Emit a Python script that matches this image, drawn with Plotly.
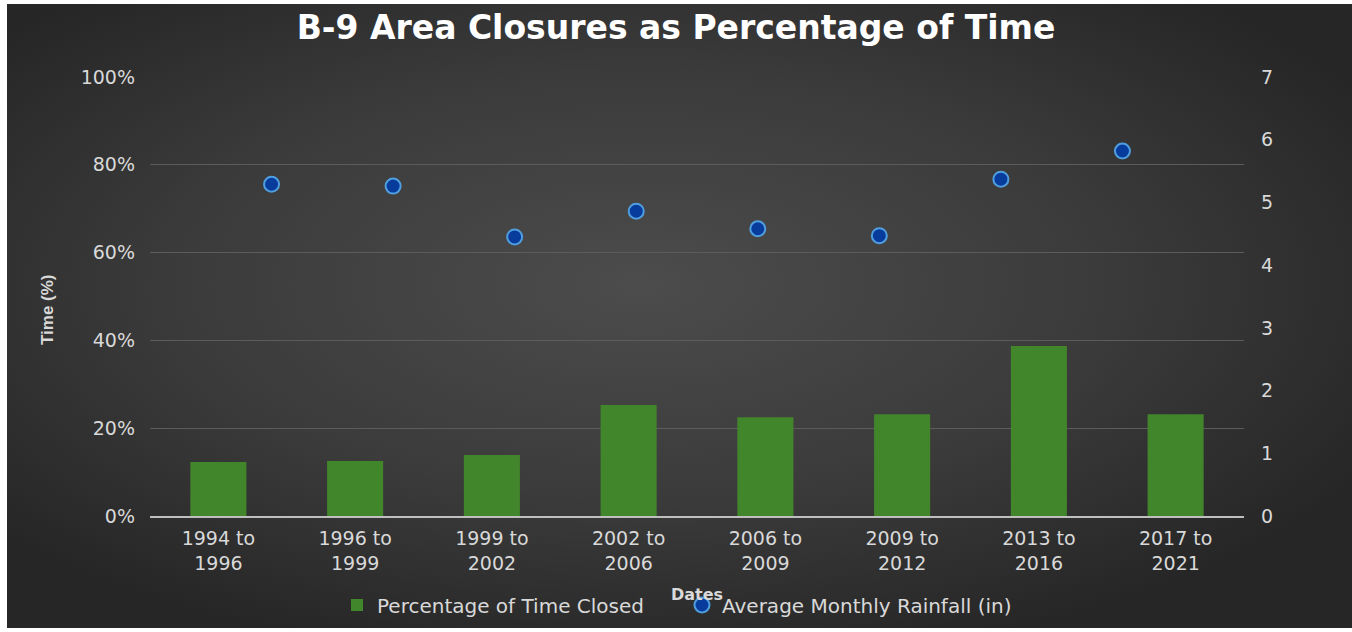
import plotly.graph_objects as go
import urllib.parse

categories = ["1994 to<br>1996", "1996 to<br>1999", "1999 to<br>2002", "2002 to<br>2006",
              "2006 to<br>2009", "2009 to<br>2012", "2013 to<br>2016", "2017 to<br>2021"]
pct_closed = [12.3, 12.5, 13.9, 25.3, 22.5, 23.2, 38.7, 23.2]
rain_pos = [1, 2, 3, 4, 5, 6, 7, 8]
rainfall = [5.29, 5.26, 4.45, 4.86, 4.58, 4.47, 5.37, 5.82]

W, H = 1352, 632
L, R, T, B = 150, 1244, 77, 516
pw, ph = R - L, B - T

svg = (
    "<svg xmlns='http://www.w3.org/2000/svg' width='1345' height='624' viewBox='0 0 1345 624' preserveAspectRatio='none'>"
    "<defs><radialGradient id='g' cx='0.47' cy='0.45' r='0.62' gradientUnits='objectBoundingBox'>"
    "<stop offset='0' stop-color='#4c4c4c'/><stop offset='0.55' stop-color='#3b3b3b'/>"
    "<stop offset='1' stop-color='#262626'/></radialGradient></defs>"
    "<rect width='1345' height='624' fill='url(#g)'/></svg>"
)
src = "data:image/svg+xml;charset=utf-8," + urllib.parse.quote(svg)

FONT = "DejaVu Sans"

fig = go.Figure()
fig.add_trace(go.Bar(
    x=categories, y=pct_closed, name="Percentage of Time Closed",
    marker=dict(color="#42862b", line=dict(width=0)),
    xaxis="x", yaxis="y",
))
fig.add_trace(go.Scatter(
    x=rain_pos, y=rainfall, name="Average Monthly Rainfall (in)",
    mode="markers",
    marker=dict(size=15, color="#083c9c", line=dict(color="#4f9fe0", width=2)),
    xaxis="x2", yaxis="y2",
))

tickfont = dict(family=FONT, size=19, color="#d9d9d9")
fig.update_layout(
    width=W, height=H,
    margin=dict(l=L, r=W - R, t=T, b=H - B, pad=0, autoexpand=False),
    paper_bgcolor="#ffffff",
    plot_bgcolor="rgba(0,0,0,0)",
    bargap=0.59,
    showlegend=True,
    title=dict(text="<b>B-9 Area Closures as Percentage of Time</b>",
               x=676 / W, xanchor="center", y=1 - 27 / H, yanchor="middle",
               font=dict(family=FONT, size=33, color="#ffffff")),
    xaxis=dict(tickfont=tickfont, showgrid=False, showline=True, linecolor="#bfbfbf",
               linewidth=2, ticks="", zeroline=False, ticklabelstandoff=4),
    xaxis2=dict(overlaying="x", range=[0, 9], visible=False, anchor="y2"),
    yaxis=dict(range=[0, 100], dtick=20, ticksuffix="%", tickfont=tickfont,
               showgrid=True, gridcolor="#5c5c5c", gridwidth=1, zeroline=False,
               ticks="", ticklabelstandoff=14),
    yaxis2=dict(range=[0, 7], dtick=1, overlaying="y", side="right", tickfont=tickfont,
                showgrid=False, zeroline=False, ticks="", ticklabelstandoff=16),
    legend=dict(orientation="h", x=(337 - L) / pw, xanchor="left", y=(B - 605) / ph, yanchor="middle",
                font=dict(family=FONT, size=20, color="#d9d9d9"),
                bgcolor="rgba(0,0,0,0)", itemwidth=30, traceorder="normal",
                entrywidth=300, entrywidthmode="pixels"),
    images=[dict(source=src, xref="paper", yref="paper",
                 x=(7 - L) / pw, y=1 + (T - 4) / ph,
                 sizex=(W - 7) / pw, sizey=(628 - 4) / ph,
                 xanchor="left", yanchor="top", sizing="stretch", layer="below")],
    annotations=[
        dict(text="<b>Time (%)</b>", textangle=-90, xref="paper", yref="paper",
             x=(47 - L) / pw, y=(B - 310) / ph, showarrow=False, xanchor="center", yanchor="middle",
             font=dict(family="Liberation Sans Narrow, Liberation Sans", size=17, color="#d9d9d9")),
        dict(text="<b>Dates</b>", xref="paper", yref="paper",
             x=0.5, y=(B - 594) / ph, showarrow=False, xanchor="center", yanchor="middle",
             font=dict(family=FONT, size=16, color="#d9d9d9")),
    ],
)

fig.write_html("out.html")
